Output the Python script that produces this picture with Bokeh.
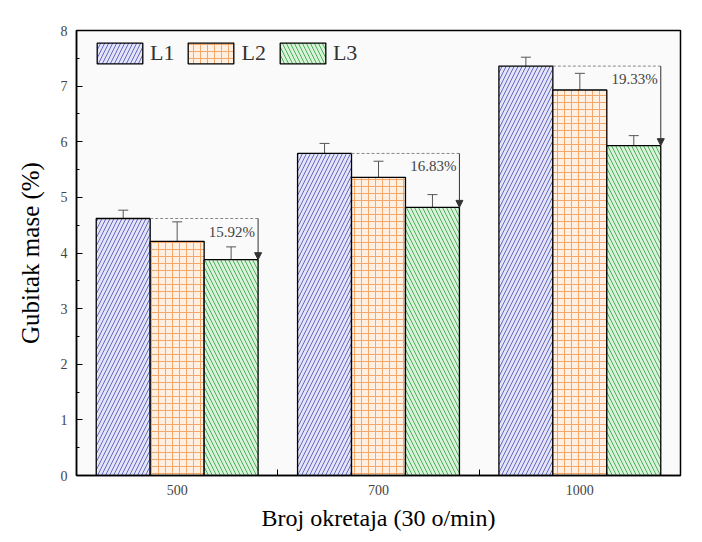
from bokeh.plotting import figure
from bokeh.models import (Range1d, FixedTicker, SingleIntervalTicker, Whisker, ColumnDataSource,
                          Legend, LegendItem, Arrow, NormalHead, TeeHead)
from bokeh.core.properties import value
from bokeh.embed import file_html
from bokeh.resources import INLINE

categories = ["500", "700", "1000"]
l1 = [4.62, 5.79, 7.36]
l2 = [4.21, 5.36, 6.93]
l3 = [3.88, 4.82, 5.93]
l1_err = [0.15, 0.18, 0.16]
l2_err = [0.35, 0.29, 0.30]
l3_err = [0.23, 0.23, 0.18]
reductions = ["15.92%", "16.83%", "19.33%"]

FONT = "Liberation Serif"
W = 0.268
idx = list(range(len(categories)))

p = figure(width=694, height=534, output_backend="svg", toolbar_location=None,
           x_range=Range1d(-0.5, 2.5), y_range=Range1d(0, 8),
           min_border_left=76, min_border_right=14, min_border_top=30, min_border_bottom=59)
p.background_fill_color = "#fafafa"
p.border_fill_color = "white"
p.outline_line_color = "black"
p.outline_line_width = 1.5
p.xgrid.visible = False
p.ygrid.visible = False

series = [
    ("L1", l1, l1_err, -W, "#e4e4f8", "#6569c4", "/", 8),
    ("L2", l2, l2_err, 0.0, "#fff0e2", "#f4a76a", "+", 7),
    ("L3", l3, l3_err, W, "#d9f2d9", "#4bb05a", "\\", 8),
]
items = []
for name, vals, errs, off, fill, hcol, pat, sc in series:
    xs = [i + off for i in idx]
    src = ColumnDataSource(dict(x=xs, top=vals, upper=[v + e for v, e in zip(vals, errs)],
                                lower=[v - e for v, e in zip(vals, errs)]))
    r = p.vbar(x="x", top="top", width=W, bottom=0, source=src, fill_color=fill,
               line_color="black", line_width=1.3, hatch_pattern=pat, hatch_color=hcol,
               hatch_scale=sc, hatch_weight=1)
    items.append(LegendItem(label=name, renderers=[r]))
    wk = Whisker(base="x", upper="upper", lower="lower", source=src, line_color="#555555",
                 line_width=1,
                 upper_head=TeeHead(size=10, line_color="#555555", line_width=1),
                 lower_head=TeeHead(size=10, line_color="#555555", line_width=1))
    p.add_layout(wk)

# reduction annotation
x_start = [i - W / 2 for i in idx]
x_end = [i + W + W / 2 for i in idx]
ann = ColumnDataSource(dict(x0=x_start, x1=x_end, y0=l1, y1=l3, txt=reductions))
p.segment(x0="x0", y0="y0", x1="x1", y1="y0", source=ann, line_color="#888888",
          line_dash="3 2", line_width=1)
p.add_layout(Arrow(end=NormalHead(size=7, fill_color="#333333", line_color="#333333"),
                   x_start="x1", y_start="y0", x_end="x1", y_end="y1", source=ann,
                   line_color="#333333", line_width=1))
p.text(x="x1", y="y0", text="txt", source=ann, text_align="right", text_baseline="top",
       x_offset=-3, y_offset=5, text_font=value(FONT), text_font_size="15px",
       text_color="#444444")

legend = Legend(items=items, orientation="horizontal", location=(15, 409),
                glyph_width=57, glyph_height=26, label_standoff=2, spacing=8,
                padding=0, margin=0, border_line_color=None, background_fill_alpha=0,
                label_text_font=FONT, label_text_font_size="22px", label_text_color="#333333")
p.add_layout(legend)

# axes
p.xaxis.ticker = FixedTicker(ticks=idx, minor_ticks=[0.5, 1.5])
p.xaxis.major_label_overrides = {i: c for i, c in zip(idx, categories)}
p.xaxis.major_tick_in = 0
p.xaxis.major_tick_out = 0
p.xaxis.minor_tick_in = 6
p.xaxis.minor_tick_out = 0
p.yaxis.ticker = SingleIntervalTicker(interval=1, num_minor_ticks=2)
p.yaxis.major_tick_in = 6
p.yaxis.major_tick_out = 0
p.yaxis.minor_tick_in = 3
p.yaxis.minor_tick_out = 0

for ax in (p.xaxis[0], p.yaxis[0]):
    ax.axis_line_width = 1.5
    ax.major_tick_line_width = 1.2
    ax.minor_tick_line_width = 1
    ax.major_label_text_font = FONT
    ax.major_label_text_font_size = "14px"
    ax.major_label_text_color = "#444444"
    ax.axis_label_text_font = FONT
    ax.axis_label_text_font_style = "normal"
    ax.axis_label_text_color = "black"

p.xaxis.axis_label_text_font_size = "24px"
p.yaxis.axis_label_text_font_size = "25px"
p.xaxis.axis_label = "Broj okretaja (30 o/min)"
p.yaxis.axis_label = "Gubitak mase (%)"
p.xaxis.major_label_standoff = 9
p.xaxis.axis_label_standoff = 7
p.yaxis.major_label_standoff = 9
p.yaxis.axis_label_standoff = 14

open("out.html", "w").write(file_html(p, INLINE))
